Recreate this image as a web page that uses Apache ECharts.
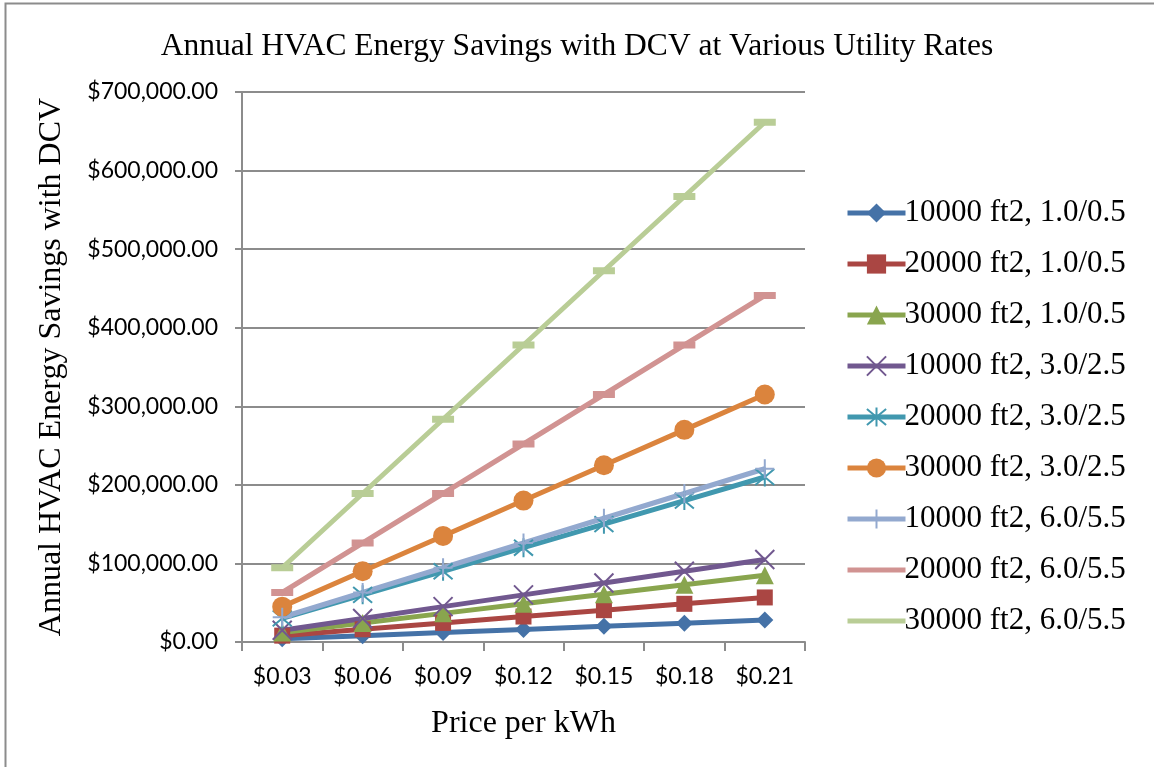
<!DOCTYPE html>
<html>
<head>
<meta charset="utf-8">
<script src="https://cdn.jsdelivr.net/npm/echarts@6/dist/echarts.min.js"></script>
<style>
  html, body { margin: 0; padding: 0; background: #fff; }
  #chart { width: 1154px; height: 767px; }
</style>
</head>
<body>
<div id="chart"></div>
<script>
// price categories
const prices = ['$0.03', '$0.06', '$0.09', '$0.12', '$0.15', '$0.18', '$0.21']

// savings per series
const s10k_1 = [4000, 8000, 12000, 16000, 20000, 24000, 28000]
const s20k_1 = [8100, 16200, 24300, 32400, 40500, 48600, 56700]
const s30k_1 = [12150, 24300, 36450, 48600, 60750, 72900, 85050]
const s10k_3 = [15000, 30000, 45000, 60000, 75000, 90000, 105000]
const s20k_3 = [30000, 60000, 90000, 120000, 150000, 180000, 210000]
const s30k_3 = [45000, 90000, 135000, 180000, 225000, 270000, 315000]
const s10k_6 = [31500, 63000, 94500, 126000, 157500, 189000, 220500]
const s20k_6 = [63000, 126000, 189000, 252000, 315000, 378000, 441000]
const s30k_6 = [94500, 189000, 283500, 378000, 472500, 567000, 661500]

const X_PATH = 'path://M0,0L10,10M10,0L0,10'
const STAR_PATH = 'path://M0,0L10,10M10,0L0,10M5,-1L5,11'
const PLUS_PATH = 'path://M5,0L5,10M0,5L10,5'

const seriesDefs = [
  { name: '10000 ft2, 1.0/0.5', data: s10k_1, color: '#4572a7', symbol: 'diamond', size: 17 },
  { name: '20000 ft2, 1.0/0.5', data: s20k_1, color: '#aa4643', symbol: 'rect', size: 16 },
  { name: '30000 ft2, 1.0/0.5', data: s30k_1, color: '#89a54e', symbol: 'triangle', size: 18 },
  { name: '10000 ft2, 3.0/2.5', data: s10k_3, color: '#71588f', symbol: X_PATH, size: 19, stroke: true },
  { name: '20000 ft2, 3.0/2.5', data: s20k_3, color: '#4198af', symbol: STAR_PATH, size: 19, stroke: true },
  { name: '30000 ft2, 3.0/2.5', data: s30k_3, color: '#db843d', symbol: 'circle', size: 20 },
  { name: '10000 ft2, 6.0/5.5', data: s10k_6, color: '#93a9cf', symbol: PLUS_PATH, size: 19, stroke: true },
  { name: '20000 ft2, 6.0/5.5', data: s20k_6, color: '#d19392', symbol: 'rect', size: [22, 7], dash: true },
  { name: '30000 ft2, 6.0/5.5', data: s30k_6, color: '#b9cd96', symbol: 'rect', size: [22, 7], dash: true },
]

const serif = '"Liberation Serif", "Times New Roman", serif'
const labelFont = 'Lato, "Open Sans", sans-serif'

const chart = echarts.init(document.getElementById('chart'))

chart.setOption({
  backgroundColor: '#fff',
  animation: false,
  title: {
    text: 'Annual HVAC Energy Savings with DCV at Various Utility Rates',
    left: 'center',
    top: 26,
    textStyle: { fontFamily: serif, fontSize: 31.5, fontWeight: 'normal', color: '#000' },
  },
  graphic: [{
    type: 'rect',
    shape: { x: 5.5, y: 3.5, width: 1200, height: 800 },
    style: { fill: 'none', stroke: '#8c8c8c', lineWidth: 2 },
    silent: true,
  }],
  grid: { left: 242, right: 349, top: 92, bottom: 125 },
  legend: {
    orient: 'vertical',
    left: 845,
    top: 197,
    padding: 0,
    itemWidth: 58,
    itemHeight: 24,
    itemGap: 19,
    lineStyle: { width: 5 },
    textStyle: { fontFamily: serif, fontSize: 31, lineHeight: 32, color: '#000', padding: [0, 0, 0, -6] },
    data: seriesDefs.map(s => s.dash ? { name: s.name, itemStyle: { opacity: 0 } } : s.name),
  },
  xAxis: {
    type: 'category',
    data: prices,
    boundaryGap: true,
    name: 'Price per kWh',
    nameLocation: 'middle',
    nameGap: 66,
    nameTextStyle: { fontFamily: serif, fontSize: 32, color: '#000' },
    axisLine: { lineStyle: { color: '#8c8c8c', width: 2 } },
    axisTick: { show: true, length: 9, lineStyle: { color: '#8c8c8c', width: 2 } },
    axisLabel: { fontFamily: labelFont, fontSize: 23, color: '#000', margin: 23 },
    splitLine: { show: false },
  },
  yAxis: {
    type: 'value',
    min: 0,
    max: 700000,
    interval: 100000,
    name: 'Annual HVAC Energy Savings with DCV',
    nameLocation: 'middle',
    nameGap: 174,
    nameTextStyle: { fontFamily: serif, fontSize: 32, color: '#000' },
    axisLine: { show: true, lineStyle: { color: '#8c8c8c', width: 2 } },
    axisTick: { show: true, length: 7, lineStyle: { color: '#8c8c8c', width: 2 } },
    axisLabel: {
      fontFamily: labelFont, fontSize: 23, color: '#000', margin: 24,
      formatter: v => '$' + v.toLocaleString('en-US', { minimumFractionDigits: 2, maximumFractionDigits: 2 }),
    },
    splitLine: { lineStyle: { color: '#8c8c8c', width: 2 } },
  },
  series: seriesDefs.map(s => ({
    name: s.name,
    type: 'line',
    data: s.data,
    symbol: s.symbol,
    symbolSize: s.size,
    showAllSymbol: true,
    color: s.color,
    lineStyle: { color: s.color, width: 5 },
    itemStyle: s.stroke
      ? { color: s.color, borderColor: s.color, borderWidth: 2 }
      : { color: s.color, borderWidth: 0 },
    emphasis: { disabled: true },
  })),
})
</script>
</body>
</html>
